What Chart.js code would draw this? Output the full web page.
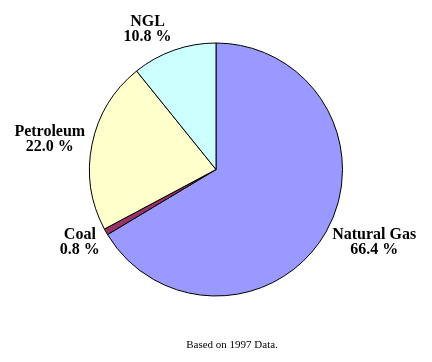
<!DOCTYPE html>
<html>
<head>
<meta charset="utf-8">
<script src="https://cdn.jsdelivr.net/npm/chart.js@4"></script>
<style>
  html, body { margin: 0; padding: 0; background: #fff; }
  #wrap { width: 432px; height: 362px; }
</style>
</head>
<body>
<div id="wrap"><canvas id="pie" width="432" height="362"></canvas></div>
<script>
// values, clockwise from 12 o'clock
const categories = ['Natural Gas', 'Coal', 'Petroleum', 'NGL']
const shares = [66.4, 0.8, 22.0, 10.8]
const sliceColors = ['#9999FF', '#993366', '#FFFFCC', '#CCFFFF']
const footNote = 'Based on 1997 Data.'

// labels sit just outside the rim, on each slice's mid angle
const sliceLabels = {
    id: 'sliceLabels',
    afterDraw(chart){
        const ctx = chart.ctx
        const arcs = chart.getDatasetMeta(0).data
        ctx.save()
        ctx.fillStyle = '#000'
        ctx.font = 'bold 16px "Liberation Serif", "Times New Roman", serif'
        ctx.textBaseline = 'middle'
        const lineH = 15
        arcs.forEach((arc, i)=>{
            const mid = (arc.startAngle + arc.endAngle) / 2
            const dx = Math.cos(mid), dy = Math.sin(mid)
            const r = arc.outerRadius + 7
            const px = arc.x + dx * r
            const py = arc.y + dy * r
            const lines = [categories[i], shares[i].toFixed(1) + ' %']
            const w = Math.max(...lines.map(t=>ctx.measureText(t).width))
            const h = lines.length * lineH
            const cx = dx >= 0 ? px + w / 2 : px - w / 2
            const cy = py + dy * h / 2
            ctx.textAlign = 'center'
            lines.forEach((t, j)=>{
                ctx.fillText(t, cx, cy - h / 2 + lineH / 2 + j * lineH)
            })
        })
        ctx.font = '11px "Liberation Serif", "Times New Roman", serif'
        ctx.textAlign = 'center'
        ctx.fillText(footNote, 232, 345)
        ctx.restore()
    }
}

const config = {
    type: 'pie',
    data: {
        labels: categories,
        datasets: [{
            data: shares,
            backgroundColor: sliceColors,
            borderColor: '#000',
            borderWidth: 1
        }]
    },
    options: {
        responsive: false,
        animation: false,
        layout: {
            padding: {left: 89, right: 89, top: 42.5, bottom: 65.5}
        },
        plugins: {
            legend: {display: false},
            tooltip: {enabled: false}
        }
    },
    plugins: [sliceLabels]
}

new Chart(document.getElementById('pie'), config)
</script>
</body>
</html>
